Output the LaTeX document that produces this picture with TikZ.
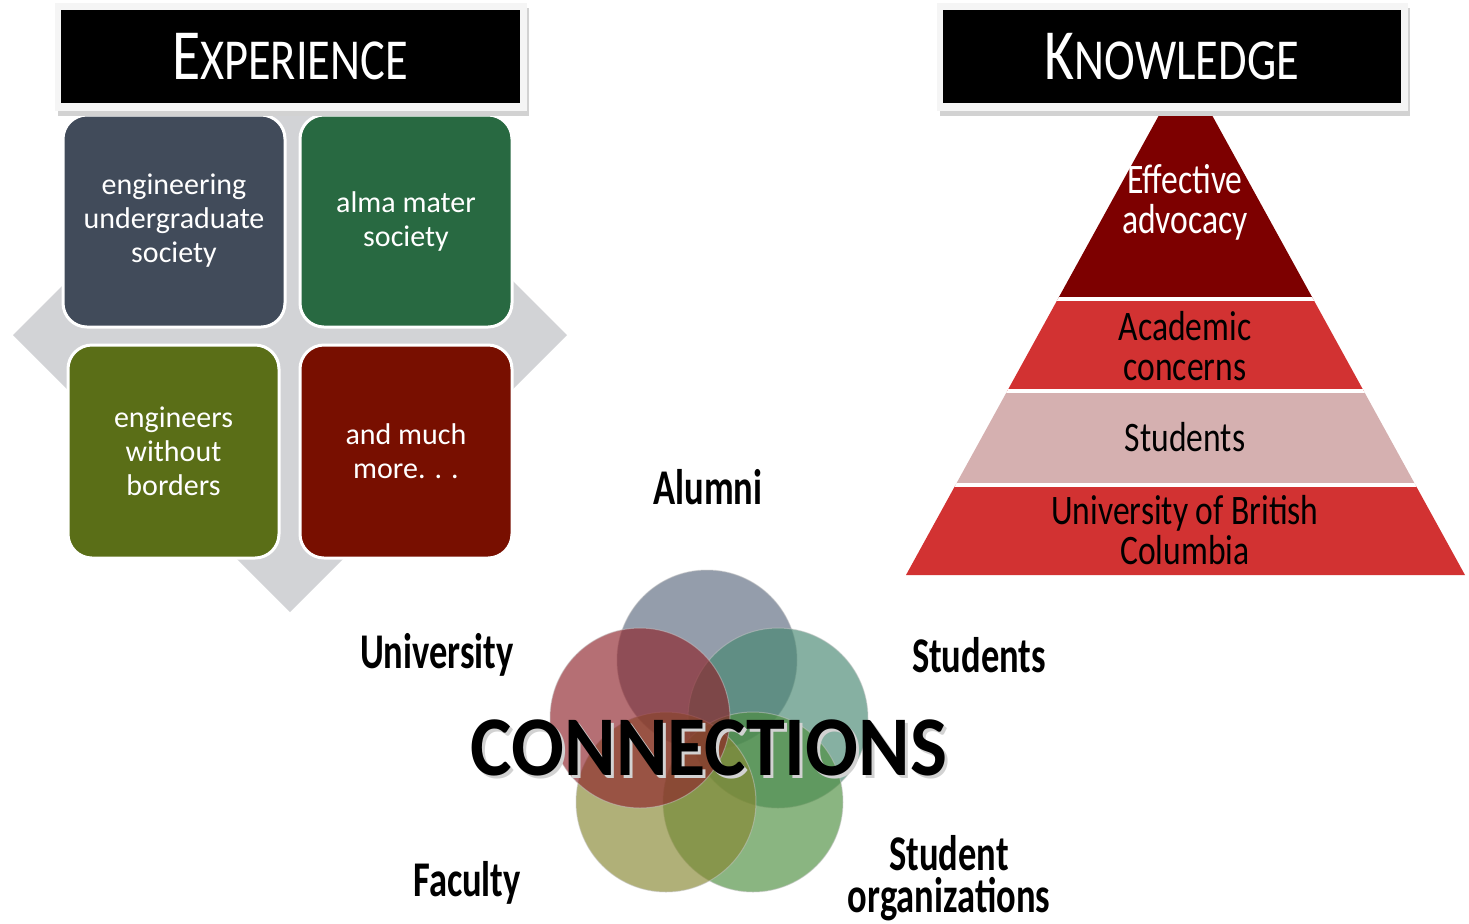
\documentclass[tikz,border=0pt]{standalone}
\usepackage{fontspec}
\usepackage{tikz}
\newfontfamily\boxfont{Carlito}
\newfontfamily\condfont[FakeStretch=0.8]{Carlito}
\newfontfamily\labelfont[FakeStretch=0.73]{Carlito}
\newfontfamily\bigfont[FakeStretch=0.92]{Carlito}
\newcommand{\fakesc}[2]{{\fontsize{36}{36}\selectfont #1}{\fontsize{29}{29}\selectfont #2}}
\definecolor{diamondgray}{RGB}{210,211,214}
\definecolor{tileslate}{RGB}{65,75,90}
\definecolor{tilegreen}{RGB}{40,105,65}
\definecolor{tileolive}{RGB}{90,110,23}
\definecolor{tilered}{RGB}{120,15,0}
\definecolor{layerdark}{RGB}{125,0,0}
\definecolor{layerred}{RGB}{210,50,50}
\definecolor{layerpink}{RGB}{213,176,176}
\definecolor{vennalumni}{RGB}{91,105,126}
\definecolor{vennuni}{RGB}{141,34,41}
\definecolor{vennstud}{RGB}{69,134,112}
\definecolor{vennfac}{RGB}{134,134,48}
\definecolor{vennorg}{RGB}{76,141,62}
\tikzset{
    tile/.style={rounded corners=12pt, draw=white, line width=1.5pt, inner sep=0pt,
        text=white, align=center, font=\boxfont\fontsize{15}{17}\selectfont},
    headtext/.style={text=white, font=\condfont},
    layertext/.style={align=center, font=\condfont\fontsize{21}{20}\selectfont},
    venn/.style={circle, minimum size=90pt, inner sep=0pt, fill opacity=0.65,
        draw=white!55!gray, draw opacity=0.5, line width=0.5pt},
    vennlabel/.style={align=center, font=\labelfont\bfseries\fontsize{25}{21}\selectfont}
}
\begin{document}
\begin{tikzpicture}[x=0.5pt, y=-0.5pt]
    \useasboundingbox (0,0) rectangle (1469,923);
    \fill[diamondgray] (290,58) -- (567,335) -- (290,612) -- (13,335) -- cycle;
    \node[tile, fill=tileslate, minimum width=111pt, minimum height=106pt] (eus) at (174,221) {engineering\\undergraduate\\society};
    \node[tile, fill=tilegreen, minimum width=106pt, minimum height=106pt] (ams) at (406,221) {alma mater\\society};
    \node[tile, fill=tileolive, minimum width=105.5pt, minimum height=106.5pt] (ewb) at (173.5,451.5) {engineers\\without\\borders};
    \node[tile, fill=tilered, minimum width=106pt, minimum height=106.5pt] (more) at (406,451.5) {and much\\more. . .};
    \begin{scope}
        \clip (1185.5,67) -- (1465,575) -- (906,575) -- cycle;
        \fill[layerdark] (900,60) rectangle (1470,299);
        \fill[layerred] (900,299) rectangle (1470,391);
        \fill[layerpink] (900,391) rectangle (1470,485);
        \fill[layerred] (900,485) rectangle (1470,580);
        \foreach \y in {299,391,485}
            \draw[white, line width=2pt] (900,\y) -- (1470,\y);
    \end{scope}
    \node[layertext, text=white] (advocacy) at (1185,202) {Effective\\advocacy};
    \node[layertext] (academic) at (1185,346) {Academic\\concerns};
    \node[layertext] (students) at (1185,437) {Students};
    \node[layertext] (ubc) at (1185,530) {University of British\\Columbia};
    \foreach \xa/\xb in {55/527, 937/1408} {
        \fill[gray!35] (\xa+3,8) rectangle (\xb+2,116);
        \fill[gray!8] (\xa,3) rectangle (\xb,111);
        \fill[black] (\xa+6,10) rectangle (\xb-7,103);
    }
    \node[headtext] (exphead) at (290,57) {\fakesc{E}{XPERIENCE}};
    \node[headtext] (knowhead) at (1172,57) {\fakesc{K}{NOWLEDGE}};
    \node[venn, fill=vennalumni] (alumni) at (707,660) {};
    \node[venn, fill=vennstud] (stud) at (778,718) {};
    \node[venn, fill=vennorg] (orgs) at (753,802) {};
    \node[venn, fill=vennfac] (fac) at (666,802) {};
    \node[venn, fill=vennuni] (uni) at (640,718) {};
    \node[font=\bigfont\bfseries\fontsize{42.5}{42.5}\selectfont, text=gray!35] (connshadow) at (712,751) {CONNECTIONS};
    \node[font=\bigfont\bfseries\fontsize{42.5}{42.5}\selectfont] (conn) at (709,748) {CONNECTIONS};
    \node[vennlabel] (alumnilabel) at (708,487) {Alumni};
    \node[vennlabel] (unilabel) at (437,655) {University};
    \node[vennlabel] (studlabel) at (979,655) {Students};
    \node[vennlabel] (faclabel) at (467,883) {Faculty};
    \node[vennlabel] (orglabel) at (949,878) {Student\\organizations};
\end{tikzpicture}
\end{document}
